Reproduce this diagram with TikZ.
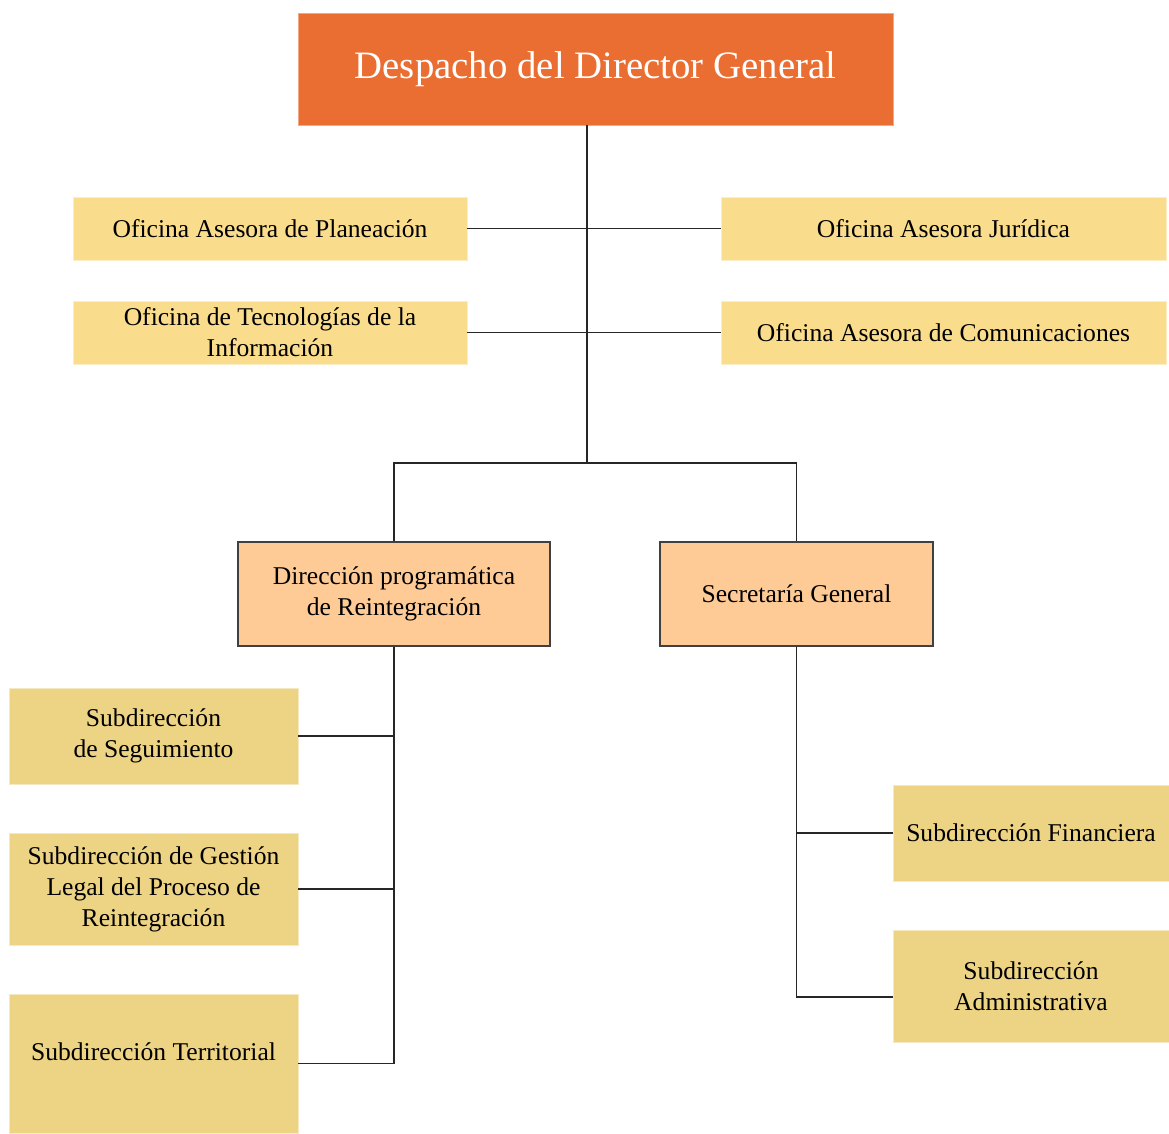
\documentclass[tikz,border=0pt]{standalone}
\usepackage{fontspec}
\setmainfont{Liberation Serif}
\usepackage{xcolor}
\usetikzlibrary{positioning}

\definecolor{headorange}{HTML}{EA6D31}
\definecolor{officeyellow}{HTML}{F9DC8C}
\definecolor{dirpeach}{HTML}{FECB97}
\definecolor{subgold}{HTML}{EDD384}

\begin{document}
\begin{tikzpicture}[
		x=1pt, y=-1pt,
		% Define styles
		head/.style={
			rectangle,
			draw=headorange!60,
			fill=headorange,
			text=white,
			font=\fontsize{38.8}{44}\selectfont,
			minimum width=595pt,
			minimum height=112pt
		},
		office/.style={
			rectangle,
			draw=officeyellow!50,
			fill=officeyellow,
			font=\fontsize{25.6}{31}\selectfont,
			align=center,
			minimum width=394pt,
			minimum height=63pt
		},
		direction/.style={
			rectangle,
			draw=black!75,
			line width=1.2pt,
			fill=dirpeach,
			font=\fontsize{25.6}{31}\selectfont,
			align=center,
			minimum height=104pt
		},
		sub/.style={
			rectangle,
			draw=subgold!50,
			fill=subgold,
			font=\fontsize{25.6}{31}\selectfont,
			align=center,
			minimum width=289pt
		},
		% Define connector style
		link/.style={line width=1.6pt, black!85}
		]
		\useasboundingbox (0,0) rectangle (1169,1133);
		
		% ----- Head Node -----
		\node[head] (head) at (595.5,69) {Despacho del Director General};
		
		% ----- Advisory Offices -----
		\node[office] (planeacion) at (270,228.5) {Oficina Asesora de Planeación};
		\node[office] (tecnologias) at (270,332.5) {Oficina de Tecnologías de la\\Información};
		\node[office, minimum width=445pt] (juridica) at (943.5,228.5) {Oficina Asesora Jurídica};
		\node[office, minimum width=445pt] (comunicaciones) at (943.5,332.5) {Oficina Asesora de Comunicaciones};
		
		% ----- Directions -----
		\node[direction, minimum width=312pt] (reintegracion) at (394,594) {Dirección programática\\de Reintegración};
		\node[direction, minimum width=273pt] (secretaria) at (796.5,594) {Secretaría General};
		
		% ----- Sub-Directions -----
		\node[sub, minimum height=96pt] (seguimiento) at (153.5,736) {Subdirección\\de Seguimiento};
		\node[sub, minimum height=112pt] (gestion) at (153.5,889) {Subdirección de Gestión\\Legal del Proceso de\\Reintegración};
		\node[sub, minimum height=139pt, text depth=24pt] (territorial) at (153.5,1063.5) {Subdirección Territorial};
		\node[sub, minimum width=276pt, minimum height=96pt] (financiera) at (1031,833) {Subdirección Financiera};
		\node[sub, minimum width=276pt, minimum height=112pt] (administrativa) at (1031,986) {Subdirección\\Administrativa};
		
		% ----- Connectors -----
		\coordinate (split) at (587,463);
		\draw[link] (head.south -| split) -- (split);
		\draw[link] (planeacion.east) -- (juridica.west);
		\draw[link] (tecnologias.east) -- (comunicaciones.west);
		\draw[link] (reintegracion.north) |- (split) -| (secretaria.north);
		
		\draw[link] (reintegracion.south) |- (seguimiento.east);
		\draw[link] (reintegracion.south) |- (gestion.east);
		\draw[link] (reintegracion.south) |- (territorial.east);
		
		\draw[link] (secretaria.south) |- (financiera.west);
		\draw[link] (secretaria.south) |- ([yshift=-11pt]administrativa.west);
		
	\end{tikzpicture}
\end{document}
